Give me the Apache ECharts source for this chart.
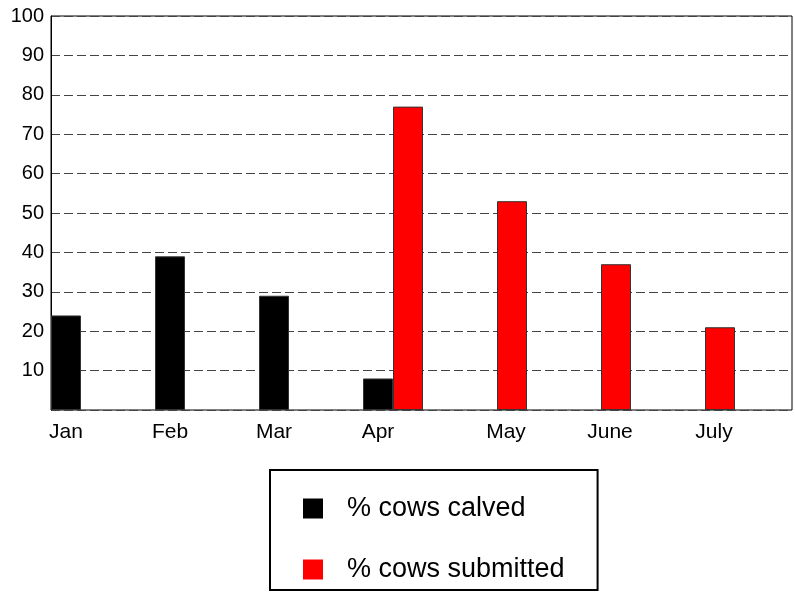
<!DOCTYPE html>
<html>
<head>
<meta charset="utf-8">
<script src="https://cdn.jsdelivr.net/npm/echarts@6/dist/echarts.min.js"></script>
<style>
html,body{margin:0;padding:0;background:#fff;}
#c{width:795px;height:592px;}
</style>
</head>
<body>
<div id="c"></div>
<script>
const categories = ['Jan', 'Feb', 'Mar', 'Apr', 'May', 'June', 'July'];
const calved = [24, 39, 29, 8, null, null, null];
const submitted = [null, null, null, 77, 53, 37, 21];
const yTicks = [10, 20, 30, 40, 50, 60, 70, 80, 90, 100];

const FONT = "'Liberation Sans', Arial, sans-serif";
const chart = echarts.init(document.getElementById('c'));
chart.setOption({
  animation: false,
  backgroundColor: '#fff',
  textStyle: { fontFamily: FONT },
  grid: [
    { left: 51, top: 16, right: 3, bottom: 182,
      show: true, borderColor: '#000', borderWidth: 1, backgroundColor: 'transparent' },
    { left: 51, top: 16, width: 728, bottom: 182, show: false }
  ],
  xAxis: [
    { type: 'value', gridIndex: 0, min: 0, max: 1, show: false },
    {
      type: 'category',
      gridIndex: 1,
      data: categories,
      axisLine: { show: false },
      axisTick: { show: false },
      axisLabel: {
        interval: 0,
        margin: 12,
        fontSize: 21,
        color: '#000',
        fontFamily: FONT,
        formatter: function (v, i) { return (i < 4 ? '{a|' : '{b|') + v + '}'; },
        rich: {
          a: { fontSize: 21, color: '#000', fontFamily: FONT, padding: [0, 74, 0, 0] },
          b: { fontSize: 21, color: '#000', fontFamily: FONT, padding: [0, 26, 0, 0] }
        }
      },
      splitLine: { show: false }
    }
  ],
  yAxis: [
    {
      type: 'value',
      gridIndex: 0,
      min: 0, max: 100, interval: 10,
      axisLine: { show: true, lineStyle: { color: '#000', width: 1 } },
      axisTick: { show: false },
      axisLabel: {
        margin: 7,
        fontSize: 20,
        color: '#000',
        fontFamily: FONT,
        formatter: function (v) { return yTicks.indexOf(v) >= 0 ? String(v) : ''; }
      },
      splitLine: { show: true, lineStyle: { color: '#444', type: [9, 4], width: 1 } }
    },
    { type: 'value', gridIndex: 1, min: 0, max: 100, interval: 10, show: false, splitLine: { show: false } }
  ],
  legend: {
    orient: 'vertical',
    left: 270, top: 470,
    padding: [25, 33, 7, 33],
    borderColor: '#000', borderWidth: 2,
    itemWidth: 20, itemHeight: 20,
    itemGap: 34,
    icon: 'rect',
    textStyle: { fontSize: 27, color: '#000', fontFamily: FONT, lineHeight: 27, padding: [0, 0, 0, 19] },
    data: [
      { name: '% cows calved', itemStyle: { color: '#000', borderWidth: 0 } },
      { name: '% cows submitted', itemStyle: { color: '#ff0000', borderWidth: 0 } }
    ]
  },
  series: [
    {
      name: '% cows calved', type: 'bar', data: calved,
      xAxisIndex: 1, yAxisIndex: 1,
      barWidth: 30, barGap: 0,
      itemStyle: { color: '#000', borderColor: '#333', borderWidth: 1 }
    },
    {
      name: '% cows submitted', type: 'bar', data: submitted,
      xAxisIndex: 1, yAxisIndex: 1,
      barWidth: 30, barGap: 0,
      itemStyle: { color: '#ff0000', borderColor: '#333', borderWidth: 1 }
    },
    {
      name: 'spacer', type: 'bar', data: categories.map(function () { return null; }),
      xAxisIndex: 1, yAxisIndex: 1,
      barWidth: 44, barGap: 0, silent: true
    }
  ]
});
</script>
</body>
</html>
